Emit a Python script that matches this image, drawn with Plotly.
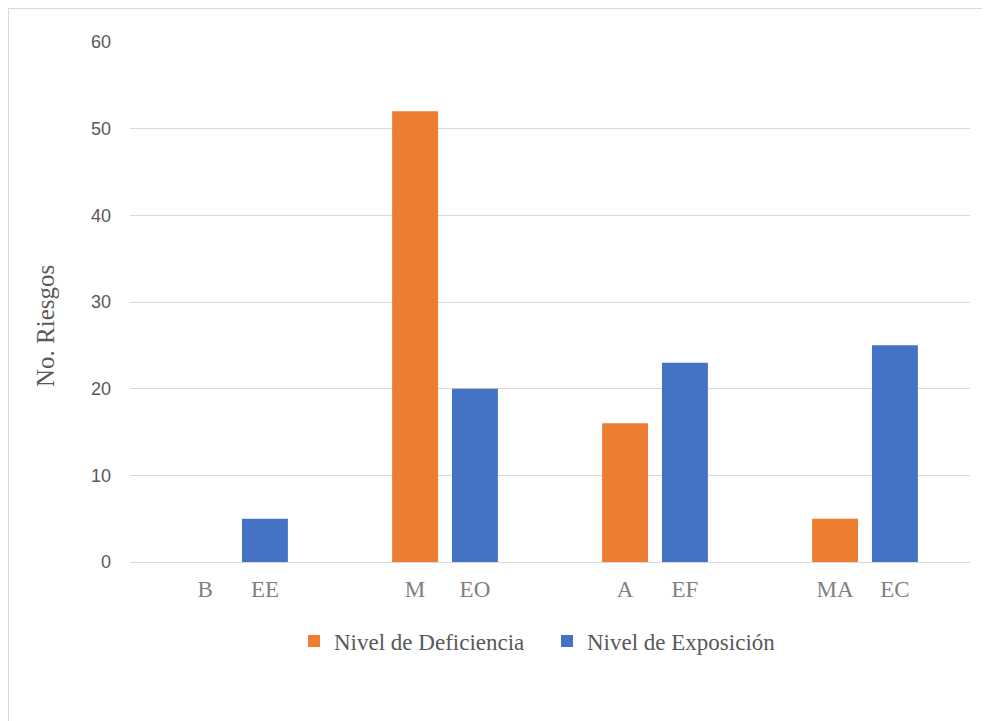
import plotly.graph_objects as go

groups = [0, 1, 2, 3]
deficiencia_labels = ["B", "M", "A", "MA"]
exposicion_labels = ["EE", "EO", "EF", "EC"]
deficiencia = [0, 52, 16, 5]
exposicion = [5, 20, 23, 25]
y_ticks = [0, 10, 20, 30, 40, 50, 60]

ORANGE = "#ED7D31"
BLUE = "#4472C4"
BARGAP = 0.43
BARGROUPGAP = 0.233
off = (1 - BARGAP) / 4

tickvals = []
ticktext = []
for g, a, b in zip(groups, deficiencia_labels, exposicion_labels):
    tickvals += [g - off, g + off]
    ticktext += [a, b]

fig = go.Figure()
fig.add_trace(go.Bar(x=groups, y=deficiencia, name="Nivel de Deficiencia",
                     marker=dict(color=ORANGE, line=dict(width=0))))
fig.add_trace(go.Bar(x=groups, y=exposicion, name="Nivel de Exposición",
                     marker=dict(color=BLUE, line=dict(width=0))))

# page has an 8px body margin; figure sized to fit the window
W, H = 982, 713
L, R, T, B = 122, 20, 34, 159
pw, ph = W - L - R, H - T - B

fig.update_layout(
    width=W, height=H,
    barmode="group", bargap=BARGAP, bargroupgap=BARGROUPGAP,
    margin=dict(l=L, r=R, t=T, b=B, pad=0),
    paper_bgcolor="white", plot_bgcolor="white",
    font=dict(family="Liberation Serif", color="#595959"),
    xaxis=dict(range=[-0.5, 3.5], tickmode="array", tickvals=tickvals, ticktext=ticktext,
               showgrid=False, zeroline=False, showline=False, ticks="",
               tickfont=dict(family="Liberation Serif", size=23, color="#808080"),
               ticklabelstandoff=11),
    yaxis=dict(range=[0, 60], tickmode="array", tickvals=y_ticks,
               showgrid=True, gridcolor="#D9D9D9", gridwidth=1,
               zeroline=True, zerolinecolor="#D9D9D9", zerolinewidth=1,
               showline=False, ticks="",
               tickfont=dict(family="Liberation Sans", size=18, color="#595959"),
               ticklabelstandoff=18),
    legend=dict(orientation="h", x=(294 - 130) / pw, xanchor="left", y=(562 - 641) / ph, yanchor="middle",
                font=dict(family="Liberation Serif", size=23, color="#595959"),
                itemwidth=30, entrywidth=208, entrywidthmode="pixels",
                traceorder="normal", bgcolor="rgba(0,0,0,0)"),
    showlegend=True,
)

# y-axis title placed as in the reference (slightly below the plot centre)
fig.add_annotation(text="No. Riesgos", textangle=-90, showarrow=False,
                   xref="paper", yref="paper", x=(37 - L) / pw, y=(H - B - 318) / ph,
                   xanchor="center", yanchor="middle",
                   font=dict(family="Liberation Serif", size=25, color="#595959"))

# chart area border (top and left edges as in the reference)
fig.add_shape(type="line", xref="paper", yref="paper",
              x0=(0 - L) / pw, x1=(W - L) / pw, y0=(H - B) / ph, y1=(H - B) / ph,
              line=dict(color="#D9D9D9", width=2))
fig.add_shape(type="line", xref="paper", yref="paper",
              x0=(0 - L) / pw, x1=(0 - L) / pw, y0=(H - B) / ph, y1=-B / ph,
              line=dict(color="#D9D9D9", width=2))

fig.write_html("out.html")
